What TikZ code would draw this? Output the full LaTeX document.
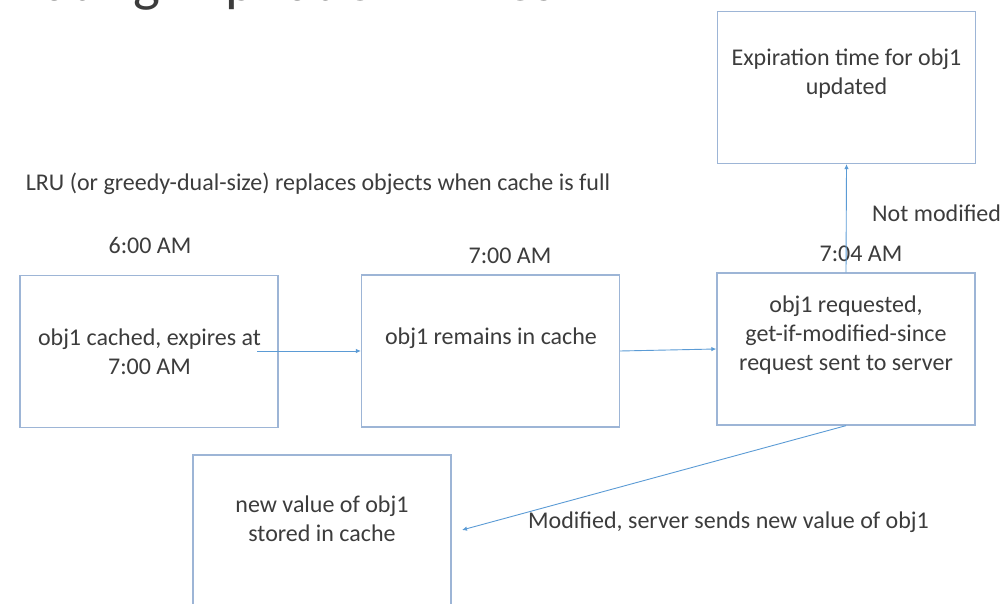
\documentclass[tikz,border=0pt]{standalone}
\usepackage{fontspec}
\setmainfont{Carlito}
\usetikzlibrary{arrows.meta}

\begin{document}
\begin{tikzpicture}[x=1pt, y=1pt,
	stage/.style={
		draw=boxblue,
		line width=1.3pt,
		minimum width=258pt,
		minimum height=152pt,
		inner sep=0pt,
	},
	words/.style={
		text=textgray,
		align=center,
		inner sep=0pt,
		font=\fontsize{24}{29}\selectfont,
	},
]
\definecolor{boxblue}{HTML}{9DB5D6}
\definecolor{arrowblue}{HTML}{5B9BD5}
\definecolor{textgray}{HTML}{3C3C3C}
\clip (0,0) rectangle (1003,604);

\node[words, anchor=base west, font=\fontsize{57}{68}\selectfont] (title) at (-82,603) {Estimating Expiration Times};

\node[stage] (cached) at (149,252.5) {};
\node[stage] (remain) at (490.5,253) {};
\node[stage] (request) at (846,255) {};
\node[stage] (updated) at (846.5,516.5) {};
\node[stage] (stored) at (322,73) {};

\node[words] (cachedtxt) at (149.5,252.5) {obj1 cached, expires at\\7:00 AM};
\node[words] (remaintxt) at (491,266) {obj1 remains in cache};
\node[words] (requesttxt) at (846,269) {obj1 requested,\\get-if-modified-since\\request sent to server};
\node[words] (updatedtxt) at (846.5,530) {Expiration time for obj1\\updated};
\node[words] (storedtxt) at (322,85.5) {new value of obj1\\stored in cache};

\node[words] (lru) at (318,420) {LRU (or greedy-dual-size) replaces objects when cache is full};
\node[words] (sixam) at (150,359) {6:00 AM};
\node[words] (sevenam) at (510,348) {7:00 AM};
\node[words] (sevenfour) at (861,350) {7:04 AM};
\node[words, anchor=west] (notmod) at (872,391) {Not modified};
\node[words, anchor=west] (modified) at (528,82) {Modified, server sends new value of obj1};

\coordinate (cachedtail) at (257,253);
\coordinate (storedtip) at (462,74);
\begin{scope}[-{Latex[length=5pt,width=4.5pt]}, line width=0.9pt, arrowblue]
\draw (cachedtail) -- (remain.west);
\draw (remain.east) -- (request.west);
\draw (request.north) -- (updated.south);
\draw (request.south) -- (storedtip);
\end{scope}
\end{tikzpicture}
\end{document}
